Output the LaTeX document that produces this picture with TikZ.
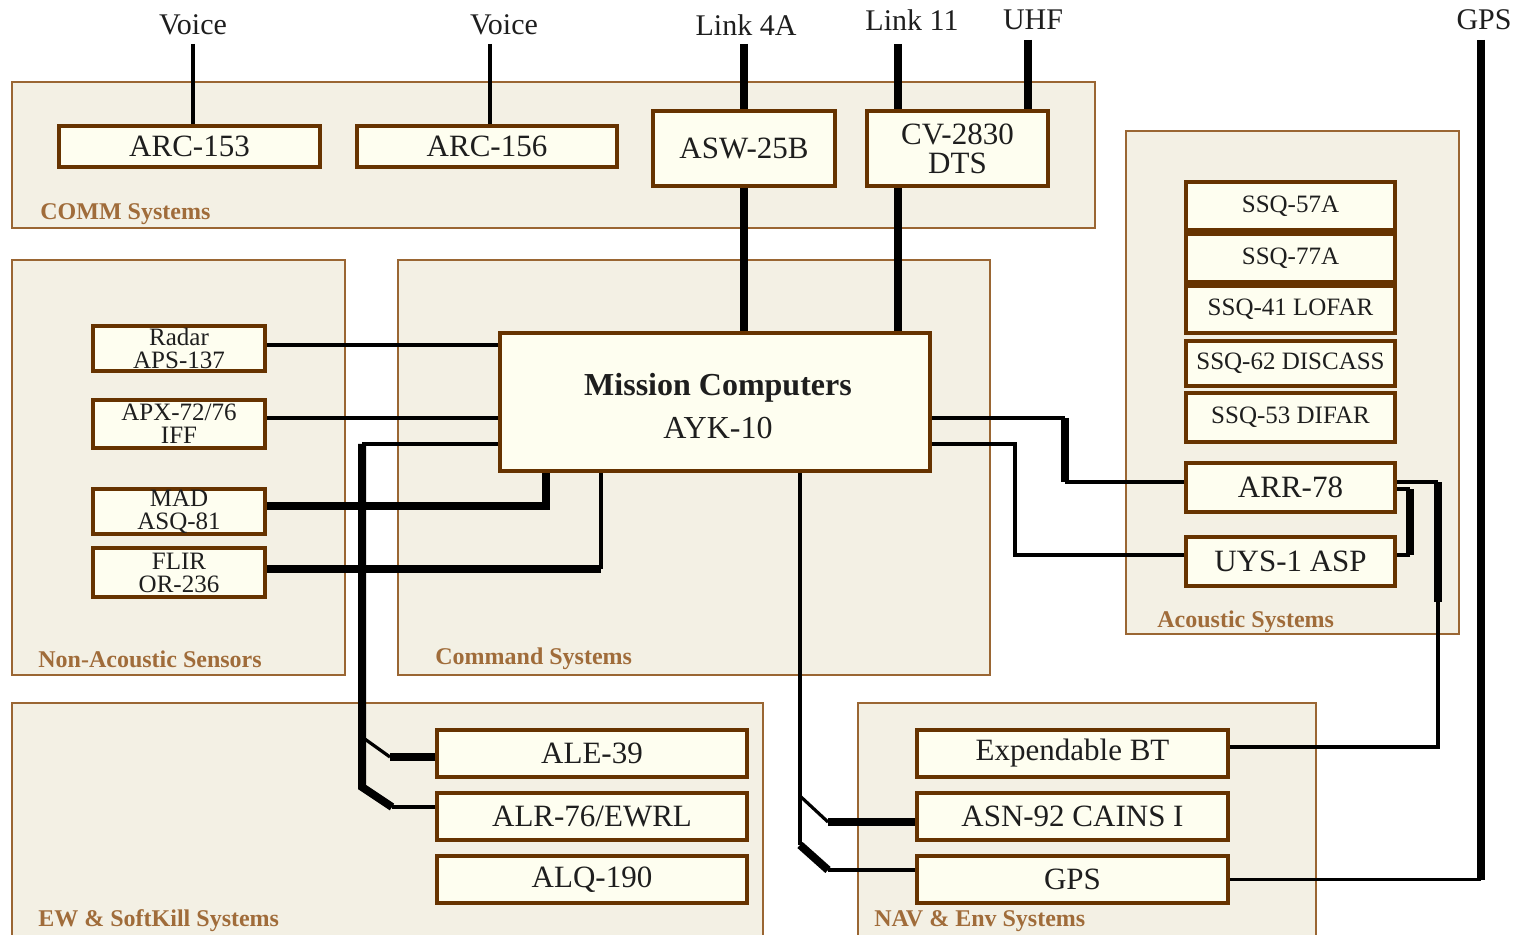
\documentclass[tikz,border=0pt]{standalone}
\usepackage{fontspec}
\setmainfont{Liberation Serif}
\definecolor{outerfill}{HTML}{F3F0E4}
\definecolor{outerline}{HTML}{9A6633}
\definecolor{innerfill}{HTML}{FEFEF0}
\definecolor{innerline}{HTML}{663300}
\definecolor{grplabel}{HTML}{A06C3A}
\definecolor{txt}{HTML}{1E1E1E}
\begin{document}
\begin{tikzpicture}[x=0.5pt,y=-0.5pt,
 group/.style={draw=outerline, fill=outerfill, line width=1.3pt},
 grouplabel/.style={anchor=west, text=grplabel, font=\bfseries\fontsize{12}{12}\selectfont, inner sep=0},
 unit/.style={draw=innerline, fill=innerfill, line width=2pt, inner sep=0, align=center, text=txt, font=\fontsize{15.5}{14.5}\selectfont},
 smallunit/.style={unit, font=\fontsize{12.5}{11.5}\selectfont},
 toplabel/.style={text=txt, font=\fontsize{15}{15}\selectfont, inner sep=0},
 thinw/.style={line width=1.6pt, draw=black},
 thickw/.style={line width=4pt, draw=black},
]
\clip (0,0) rectangle (1515,935);
\fill[white] (0,0) rectangle (1515,935);
% groups
\draw[group] (12,82) rectangle (1095,228);
\draw[group] (12,260) rectangle (345,675);
\draw[group] (398,260) rectangle (990,675);
\draw[group] (1126,131) rectangle (1459,634);
\draw[group] (12,703) rectangle (763,950);
\draw[group] (858,703) rectangle (1316,950);
\node[grouplabel] (gComm) at (40,214) {COMM Systems};
\node[grouplabel] (gNon) at (38,659) {Non-Acoustic Sensors};
\node[grouplabel] (gCmd) at (435,659) {Command Systems};
\node[grouplabel] (gAco) at (1157,622) {Acoustic Systems};
\node[grouplabel] (gEw) at (38,921) {EW \& SoftKill Systems};
\node[grouplabel] (gNav) at (874,921) {NAV \& Env Systems};
% top labels
\node[toplabel] (voiceA) at (193,25) {Voice};
\node[toplabel] (voiceB) at (504,25) {Voice};
\node[toplabel] (linkA) at (746,25) {Link 4A};
\node[toplabel] (linkB) at (912,20) {Link 11};
\node[toplabel] (uhf) at (1033,20) {UHF};
\node[toplabel] (gpsl) at (1484,20) {GPS};
% units
\node[unit, minimum width=130.5pt, minimum height=20.5pt] (arc153) at (189.5,146.5) {ARC-153};
\node[unit, minimum width=130pt, minimum height=20.5pt] (arc156) at (487,146.5) {ARC-156};
\node[unit, minimum width=91pt, minimum height=37.5pt] (asw) at (744,148.5) {ASW-25B};
\node[unit, minimum width=90.5pt, minimum height=37.5pt] (cv) at (957.5,148.5) {CV-2830\\DTS};
\node[smallunit, minimum width=86pt, minimum height=22.5pt] (radar) at (179,348.5) {Radar\\APS-137};
\node[smallunit, minimum width=86pt, minimum height=24pt] (apx) at (179,424) {APX-72/76\\IFF};
\node[smallunit, minimum width=86pt, minimum height=22.5pt] (mad) at (179,511.5) {MAD\\ASQ-81};
\node[smallunit, minimum width=86pt, minimum height=24.5pt] (flir) at (179,572.5) {FLIR\\OR-236};
\node[unit, minimum width=215pt, minimum height=69pt, font=\fontsize{16}{21.5}\selectfont] (mc) at (715,402) {};
\node[text=txt, font=\fontsize{16}{21.5}\selectfont, align=center, inner sep=0] (mctext) at (718,406) {\textbf{Mission Computers}\\AYK-10};
\node[smallunit, minimum width=104.5pt, minimum height=24pt] (ssq57) at (1290.5,206) {SSQ-57A};
\node[smallunit, minimum width=104.5pt, minimum height=24pt] (ssq77) at (1290.5,258) {SSQ-77A};
\node[smallunit, minimum width=104.5pt, minimum height=23.5pt] (ssq41) at (1290.5,309.5) {SSQ-41 LOFAR};
\node[smallunit, minimum width=104.5pt, minimum height=22.5pt] (ssq62) at (1290.5,363.5) {SSQ-62 DISCASS};
\node[smallunit, minimum width=104.5pt, minimum height=24.5pt] (ssq53) at (1290.5,417.5) {SSQ-53 DIFAR};
\node[unit, minimum width=104.5pt, minimum height=24.5pt] (arr78) at (1290.5,487.5) {ARR-78};
\node[unit, minimum width=104.5pt, minimum height=24.5pt] (uys) at (1290.5,561.5) {UYS-1 ASP};
\node[unit, minimum width=155pt, minimum height=23.5pt] (ale) at (592,753.5) {ALE-39};
\node[unit, minimum width=155pt, minimum height=23.5pt] (alr) at (592,816.5) {ALR-76/EWRL};
\node[unit, minimum width=155pt, minimum height=23.5pt] (alq) at (592,879.5) {ALQ-190};
\node[unit, minimum width=155.5pt, minimum height=23.5pt] (xbt) at (1072.5,753.5) {Expendable BT};
\node[unit, minimum width=155.5pt, minimum height=23.5pt] (asn) at (1072.5,816.5) {ASN-92 CAINS I};
\node[unit, minimum width=155.5pt, minimum height=23.5pt] (gps) at (1072.5,879.5) {GPS};
% free ends and bends
\coordinate (v1top) at (193,44);
\coordinate (v2top) at (490,44);
\coordinate (l4top) at (744,44);
\coordinate (l11top) at (898,44);
\coordinate (uhftop) at (1028,40);
\coordinate (gpstop) at (1481,40);
% top connectors
\draw[thinw] (v1top) -- (v1top |- arc153.north);
\draw[thinw] (v2top) -- (v2top |- arc156.north);
\draw[thickw] (l4top) -- (l4top |- asw.north);
\draw[thickw] (asw.south) -- (asw.south |- mc.north);
\draw[thickw] (l11top) -- (l11top |- cv.north);
\draw[thickw] (l11top |- cv.south) -- (l11top |- mc.north);
\draw[thickw] (uhftop) -- (uhftop |- cv.north);
\draw[thickw] (gpstop) -- (gpstop |- gps.east);
\draw[thinw] (gpstop |- gps.east) -- (gps.east);
% sensors
\coordinate (radarE) at ([yshift=1.75pt]radar.east);
\coordinate (apxE) at ([yshift=3pt]apx.east);
\coordinate (madE) at ([yshift=2.75pt]mad.east);
\coordinate (flirE) at ([yshift=1.75pt]flir.east);
\coordinate (mcB1) at ([xshift=24pt]mc.south west);
\coordinate (mcB2) at ([xshift=51.5pt]mc.south west);
\draw[thinw] (radarE) -- (radarE -| mc.west);
\draw[thinw] (apxE) -- (apxE -| mc.west);
\draw[thickw] (madE) -| (mcB1);
\draw[thickw] (flirE) -- (flirE -| mcB2);
\draw[thinw] (flirE -| mcB2) -- (mcB2);
% EW bus
\coordinate (mcL) at ([yshift=-21pt]mc.west);
\coordinate (ewT) at (362,444);
\coordinate (ew1) at (362,737);
\coordinate (ew1d) at (390,757);
\coordinate (ew2) at (362,787);
\coordinate (ew2d) at (392,807);
\draw[thinw] (mcL) -- (ewT);
\draw[thickw] (ewT) -- (ew2) -- (ew2d);
\draw[thinw] (ew1) -- (ew1d);
\draw[thickw] (ew1d) -- (ew1d -| ale.west);
\draw[thinw] (ew2d) -- (ew2d -| alr.west);
% NAV bus
\coordinate (mcB3) at ([xshift=42.5pt]mc.south);
\coordinate (nv1) at (800,796);
\coordinate (nv1d) at (828,822);
\coordinate (nv2) at (800,845);
\coordinate (nv2d) at (828,870);
\draw[thinw] (mcB3) -- (nv2);
\draw[thinw] (nv1) -- (nv1d);
\draw[thickw] (nv1d) -- (nv1d -| asn.west);
\draw[thickw] (nv2) -- (nv2d);
\draw[thinw] (nv2d) -- (nv2d -| gps.west);
% acoustic links
\coordinate (mcR1) at ([yshift=-8pt]mc.east);
\coordinate (mcR2) at ([yshift=-21pt]mc.east);
\coordinate (ar1) at (1065,418);
\coordinate (ar2) at (1065,482);
\draw[thinw] (mcR1) -- (ar1);
\draw[thickw] (ar1) -- (ar2);
\draw[thinw] (ar2) -- (ar2 -| arr78.west);
\coordinate (uy1) at (1015,444);
\coordinate (uy2) at (1015,555);
\draw[thinw] (mcR2) -- (uy1) -- (uy2) -- (uy2 -| uys.west);
\coordinate (au1) at (1410,489);
\coordinate (au2) at (1410,555);
\draw[thinw] (au1 -| arr78.east) -- (au1);
\draw[thickw] (au1) -- (au2);
\draw[thinw] (au2) -- (au2 -| uys.east);
\coordinate (ax1) at (1438,482);
\coordinate (ax2) at (1438,602);
\coordinate (ax3) at (1438,747);
\draw[thinw] (ax1 -| arr78.east) -- (ax1);
\draw[thickw] (ax1) -- (ax2);
\draw[thinw] (ax2) -- (ax3) -- (ax3 -| xbt.east);
\end{tikzpicture}
\end{document}
